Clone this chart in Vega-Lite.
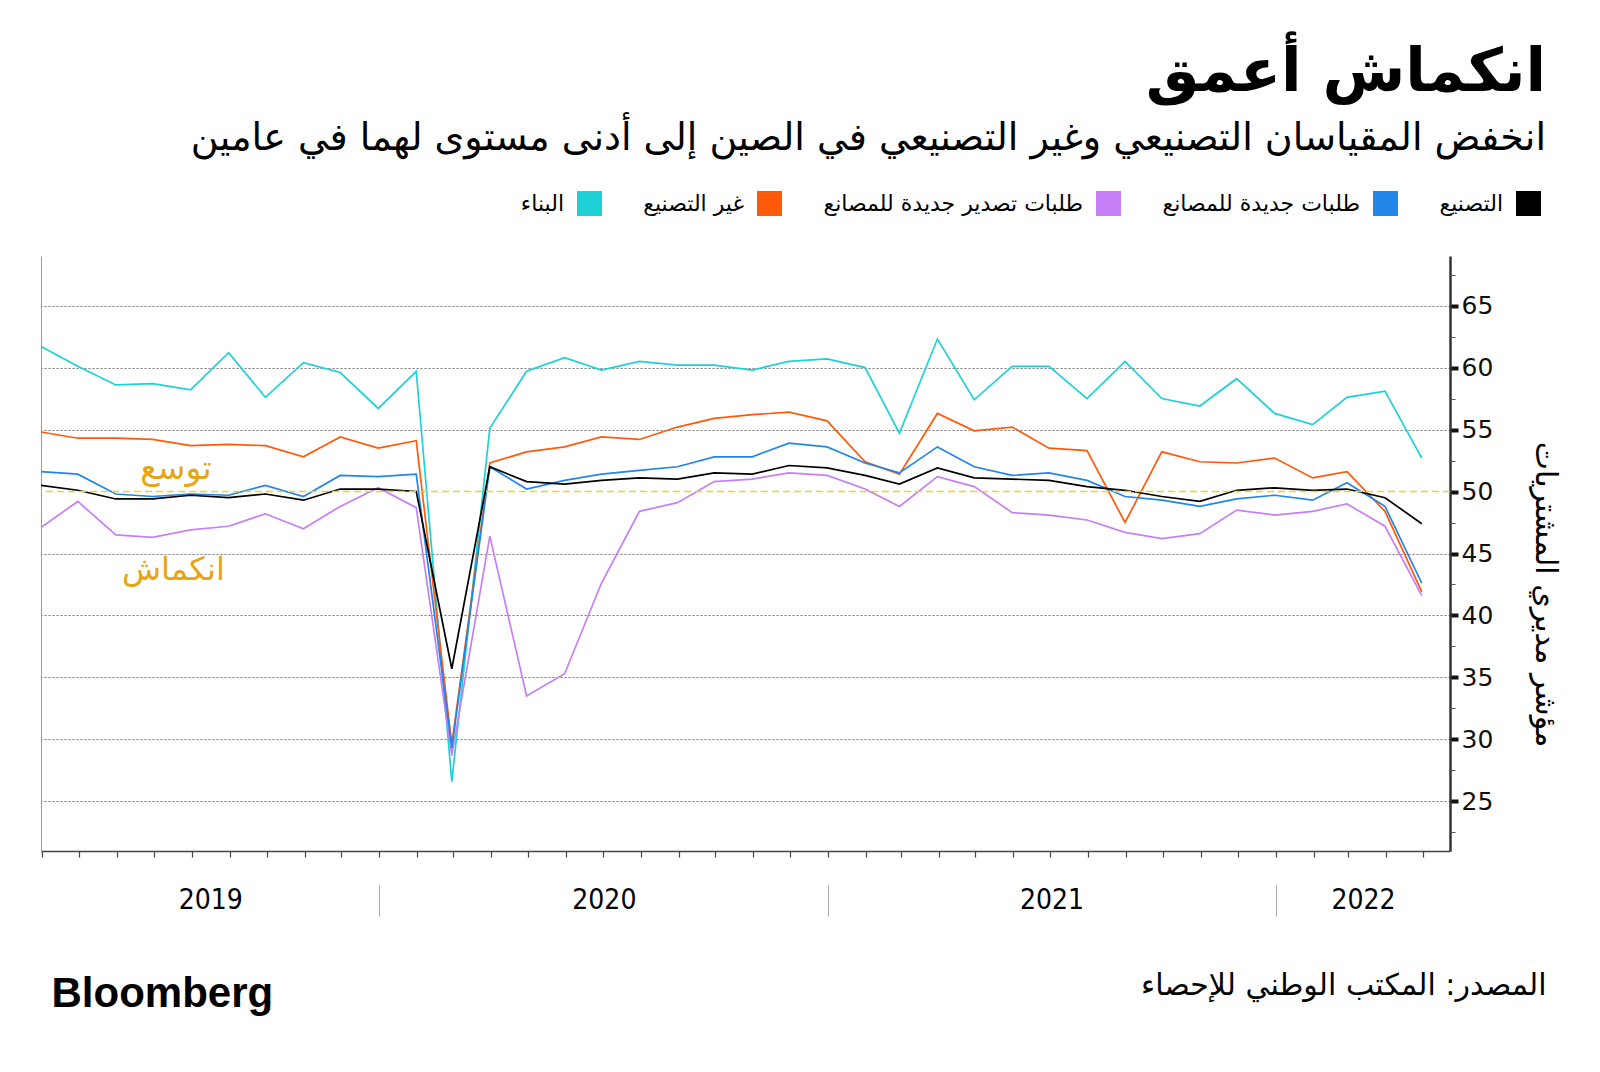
{
  "$schema": "https://vega.github.io/schema/vega-lite/v6.json",
  "width": 1409,
  "height": 595,
  "autosize": {"type": "none"},
  "padding": {"left": 41, "top": 256, "right": 150, "bottom": 221},
  "background": "white",
  "config": {"view": {"stroke": null}, "font": "DejaVu Sans"},
  "title": {
    "text": "انكماش أعمق",
    "subtitle": "انخفض المقياسان التصنيعي وغير التصنيعي في الصين إلى أدنى مستوى لهما في عامين",
    "anchor": "end",
    "frame": "group",
    "dx": 96,
    "offset": 32,
    "font": "DejaVu Sans",
    "fontSize": 60,
    "fontWeight": "bold",
    "color": "#000000",
    "subtitleFont": "DejaVu Sans",
    "subtitleFontSize": 38,
    "subtitleColor": "#000000",
    "subtitlePadding": 16
  },
  "layer": [
    {
      "data": {
        "values": [
          {"date": "2019-03-31", "m": 50.5, "no": 51.6, "neo": 47.1, "nm": 54.8, "c": 61.7},
          {"date": "2019-04-30", "m": 50.1, "no": 51.4, "neo": 49.2, "nm": 54.3, "c": 60.1},
          {"date": "2019-05-31", "m": 49.4, "no": 49.8, "neo": 46.5, "nm": 54.3, "c": 58.6},
          {"date": "2019-06-30", "m": 49.4, "no": 49.6, "neo": 46.3, "nm": 54.2, "c": 58.7},
          {"date": "2019-07-31", "m": 49.7, "no": 49.8, "neo": 46.9, "nm": 53.7, "c": 58.2},
          {"date": "2019-08-31", "m": 49.5, "no": 49.7, "neo": 47.2, "nm": 53.8, "c": 61.2},
          {"date": "2019-09-30", "m": 49.8, "no": 50.5, "neo": 48.2, "nm": 53.7, "c": 57.6},
          {"date": "2019-10-31", "m": 49.3, "no": 49.6, "neo": 47.0, "nm": 52.8, "c": 60.4},
          {"date": "2019-11-30", "m": 50.2, "no": 51.3, "neo": 48.8, "nm": 54.4, "c": 59.6},
          {"date": "2019-12-31", "m": 50.2, "no": 51.2, "neo": 50.3, "nm": 53.5, "c": 56.7},
          {"date": "2020-01-31", "m": 50.0, "no": 51.4, "neo": 48.7, "nm": 54.1, "c": 59.7},
          {"date": "2020-02-29", "m": 35.7, "no": 29.3, "neo": 28.7, "nm": 29.6, "c": 26.6},
          {"date": "2020-03-31", "m": 52.0, "no": 52.0, "neo": 46.4, "nm": 52.3, "c": 55.1},
          {"date": "2020-04-30", "m": 50.8, "no": 50.2, "neo": 33.5, "nm": 53.2, "c": 59.7},
          {"date": "2020-05-31", "m": 50.6, "no": 50.9, "neo": 35.3, "nm": 53.6, "c": 60.8},
          {"date": "2020-06-30", "m": 50.9, "no": 51.4, "neo": 42.6, "nm": 54.4, "c": 59.8},
          {"date": "2020-07-31", "m": 51.1, "no": 51.7, "neo": 48.4, "nm": 54.2, "c": 60.5},
          {"date": "2020-08-31", "m": 51.0, "no": 52.0, "neo": 49.1, "nm": 55.2, "c": 60.2},
          {"date": "2020-09-30", "m": 51.5, "no": 52.8, "neo": 50.8, "nm": 55.9, "c": 60.2},
          {"date": "2020-10-31", "m": 51.4, "no": 52.8, "neo": 51.0, "nm": 56.2, "c": 59.8},
          {"date": "2020-11-30", "m": 52.1, "no": 53.9, "neo": 51.5, "nm": 56.4, "c": 60.5},
          {"date": "2020-12-31", "m": 51.9, "no": 53.6, "neo": 51.3, "nm": 55.7, "c": 60.7},
          {"date": "2021-01-31", "m": 51.3, "no": 52.3, "neo": 50.2, "nm": 52.4, "c": 60.0},
          {"date": "2021-02-28", "m": 50.6, "no": 51.5, "neo": 48.8, "nm": 51.4, "c": 54.7},
          {"date": "2021-03-31", "m": 51.9, "no": 53.6, "neo": 51.2, "nm": 56.3, "c": 62.3},
          {"date": "2021-04-30", "m": 51.1, "no": 52.0, "neo": 50.4, "nm": 54.9, "c": 57.4},
          {"date": "2021-05-31", "m": 51.0, "no": 51.3, "neo": 48.3, "nm": 55.2, "c": 60.1},
          {"date": "2021-06-30", "m": 50.9, "no": 51.5, "neo": 48.1, "nm": 53.5, "c": 60.1},
          {"date": "2021-07-31", "m": 50.4, "no": 50.9, "neo": 47.7, "nm": 53.3, "c": 57.5},
          {"date": "2021-08-31", "m": 50.1, "no": 49.6, "neo": 46.7, "nm": 47.5, "c": 60.5},
          {"date": "2021-09-30", "m": 49.6, "no": 49.3, "neo": 46.2, "nm": 53.2, "c": 57.5},
          {"date": "2021-10-31", "m": 49.2, "no": 48.8, "neo": 46.6, "nm": 52.4, "c": 56.9},
          {"date": "2021-11-30", "m": 50.1, "no": 49.4, "neo": 48.5, "nm": 52.3, "c": 59.1},
          {"date": "2021-12-31", "m": 50.3, "no": 49.7, "neo": 48.1, "nm": 52.7, "c": 56.3},
          {"date": "2022-01-31", "m": 50.1, "no": 49.3, "neo": 48.4, "nm": 51.1, "c": 55.4},
          {"date": "2022-02-28", "m": 50.2, "no": 50.7, "neo": 49.0, "nm": 51.6, "c": 57.6},
          {"date": "2022-03-31", "m": 49.5, "no": 48.8, "neo": 47.2, "nm": 48.4, "c": 58.1},
          {"date": "2022-04-30", "m": 47.4, "no": 42.6, "neo": 41.6, "nm": 41.9, "c": 52.7}
        ]
      },
      "transform": [{"fold": ["c", "nm", "neo", "no", "m"], "as": ["series", "value"]}],
      "mark": {"type": "line", "strokeWidth": 1.7},
      "encoding": {
        "x": {
          "field": "date",
          "type": "temporal",
          "scale": {"domain": [{"year": 2019, "month": 3, "date": 31}, {"year": 2022, "month": 5, "date": 23}]},
          "axis": {
            "orient": "bottom",
            "tickCount": {"interval": "month", "step": 1},
            "labels": false,
            "grid": false,
            "domain": true,
            "domainColor": "#444444",
            "domainWidth": 1.5,
            "ticks": true,
            "tickSize": 6,
            "tickColor": "#444444",
            "tickWidth": 1.2,
            "title": "Bloomberg",
            "titleFont": "Liberation Sans",
            "titleFontSize": 42,
            "titleFontWeight": "bold",
            "titleColor": "#000000",
            "titleAnchor": "start",
            "titleAlign": "left",
            "titleBaseline": "middle",
            "titleAngle": 0,
            "titleX": 10,
            "titleY": 142
          }
        },
        "y": {
          "field": "value",
          "type": "quantitative",
          "scale": {"domain": [21, 69], "nice": false, "zero": false},
          "axis": {
            "orient": "right",
            "values": [25, 30, 35, 40, 45, 50, 55, 60, 65],
            "grid": true,
            "gridColor": "#777777",
            "gridDash": [2, 2],
            "gridWidth": 1,
            "gridOpacity": {"condition": {"test": "datum.value == 50", "value": 0}, "value": 1},
            "domain": true,
            "domainColor": "#333333",
            "domainWidth": 2.5,
            "ticks": true,
            "tickSize": 8,
            "tickWidth": 4,
            "tickColor": "#111111",
            "labelFont": "DejaVu Sans",
            "labelFontSize": 25,
            "labelColor": "#111111",
            "labelPadding": 3,
            "title": "مؤشر مديري المشتريات",
            "titleFont": "DejaVu Sans",
            "titleFontSize": 30,
            "titleFontWeight": "normal",
            "titleColor": "#000000",
            "titleAngle": 90,
            "titleAlign": "center",
            "titleBaseline": "middle",
            "titleX": 94,
            "titleY": 338
          }
        },
        "color": {
          "field": "series",
          "type": "nominal",
          "scale": {
            "domain": ["c", "nm", "neo", "no", "m"],
            "range": ["#1dd1d6", "#ff5a0a", "#c67ff6", "#2186e8", "#000000"]
          },
          "legend": {
            "orient": "none",
            "legendX": 536,
            "legendY": -65,
            "direction": "horizontal",
            "columns": 5,
            "title": null,
            "symbolType": "square",
            "symbolSize": 625,
            "symbolStrokeWidth": 0,
            "labelFont": "DejaVu Sans",
            "labelFontSize": 22,
            "labelColor": "#000000",
            "labelAlign": "right",
            "labelOffset": -38,
            "labelLimit": 0,
            "columnPadding": 41,
            "labelExpr": "datum.label == 'c' ? 'البناء' : datum.label == 'nm' ? 'غير التصنيع' : datum.label == 'neo' ? 'طلبات تصدير جديدة للمصانع' : datum.label == 'no' ? 'طلبات جديدة للمصانع' : 'التصنيع'",
            "encode": {
              "symbols": {
                "update": {
                  "fill": {"scale": "color", "field": "value"},
                  "fillOpacity": {"value": 1},
                  "strokeWidth": {"value": 0}
                }
              }
            }
          }
        }
      }
    },
    {
      "data": {"values": [{"level": 50}]},
      "mark": {"type": "rule", "color": "#f0d02c", "strokeDash": [7, 4], "strokeWidth": 1.3},
      "encoding": {
        "y": {
          "field": "level",
          "type": "quantitative",
          "scale": {"domain": [21, 69], "nice": false, "zero": false},
          "axis": {
            "orient": "right",
            "values": [22.5, 27.5, 32.5, 37.5, 42.5, 47.5, 52.5, 57.5, 62.5, 67.5],
            "labels": false,
            "grid": false,
            "domain": false,
            "ticks": true,
            "tickSize": 5,
            "tickWidth": 1,
            "tickColor": "#555555",
            "title": null
          }
        }
      }
    },
    {
      "data": {"values": [{"label": "توسع", "when": "2019-07-19", "level": 51.8}]},
      "mark": {"type": "text", "font": "DejaVu Sans", "fontSize": 33, "color": "#e6a514", "align": "center", "baseline": "middle"},
      "encoding": {
        "text": {"field": "label"},
        "x": {
          "field": "when",
          "type": "temporal",
          "scale": {"domain": [{"year": 2019, "month": 3, "date": 31}, {"year": 2022, "month": 5, "date": 23}]},
          "axis": {
            "orient": "bottom",
            "values": [{"year": 2020, "month": 1, "date": 1}, {"year": 2021, "month": 1, "date": 1}, {"year": 2022, "month": 1, "date": 1}],
            "offset": 34,
            "labels": false,
            "grid": false,
            "domain": false,
            "ticks": true,
            "tickSize": 31,
            "tickColor": "#aaaaaa",
            "tickWidth": 1,
            "title": "المصدر: المكتب الوطني للإحصاء",
            "titleFont": "DejaVu Sans",
            "titleFontSize": 30,
            "titleFontWeight": "normal",
            "titleColor": "#000000",
            "titleAnchor": "end",
            "titleAlign": "right",
            "titleBaseline": "middle",
            "titleAngle": 0,
            "titleX": 1505,
            "titleY": 100
          }
        },
        "y": {
          "field": "level",
          "type": "quantitative",
          "scale": {"domain": [21, 69], "nice": false, "zero": false},
          "axis": {
            "orient": "left",
            "domain": true,
            "domainColor": "#999999",
            "domainWidth": 1,
            "ticks": false,
            "labels": false,
            "grid": false,
            "title": null
          }
        }
      }
    },
    {
      "data": {"values": [{"label": "انكماش", "when": "2019-07-17", "level": 43.7}]},
      "mark": {"type": "text", "font": "DejaVu Sans", "fontSize": 32, "color": "#e6a514", "align": "center", "baseline": "middle"},
      "encoding": {
        "text": {"field": "label"},
        "x": {
          "field": "when",
          "type": "temporal",
          "scale": {"domain": [{"year": 2019, "month": 3, "date": 31}, {"year": 2022, "month": 5, "date": 23}]},
          "axis": {
            "orient": "bottom",
            "values": [{"year": 2019, "month": 8, "date": 16}, {"year": 2020, "month": 7, "date": 2}, {"year": 2021, "month": 7, "date": 2}, {"year": 2022, "month": 3, "date": 13}],
            "format": "%Y",
            "labels": true,
            "labelFont": "Liberation Sans Narrow, DejaVu Sans Condensed, Roboto",
            "labelFontSize": 28,
            "labelColor": "#000000",
            "labelPadding": 49,
            "labelBaseline": "middle",
            "labelFlush": false,
            "labelOverlap": false,
            "ticks": false,
            "tickSize": 0,
            "domain": false,
            "grid": false,
            "title": null
          }
        },
        "y": {
          "field": "level",
          "type": "quantitative",
          "scale": {"domain": [21, 69], "nice": false, "zero": false},
          "axis": null
        }
      }
    }
  ],
  "resolve": {"axis": {"x": "independent", "y": "independent"}}
}
